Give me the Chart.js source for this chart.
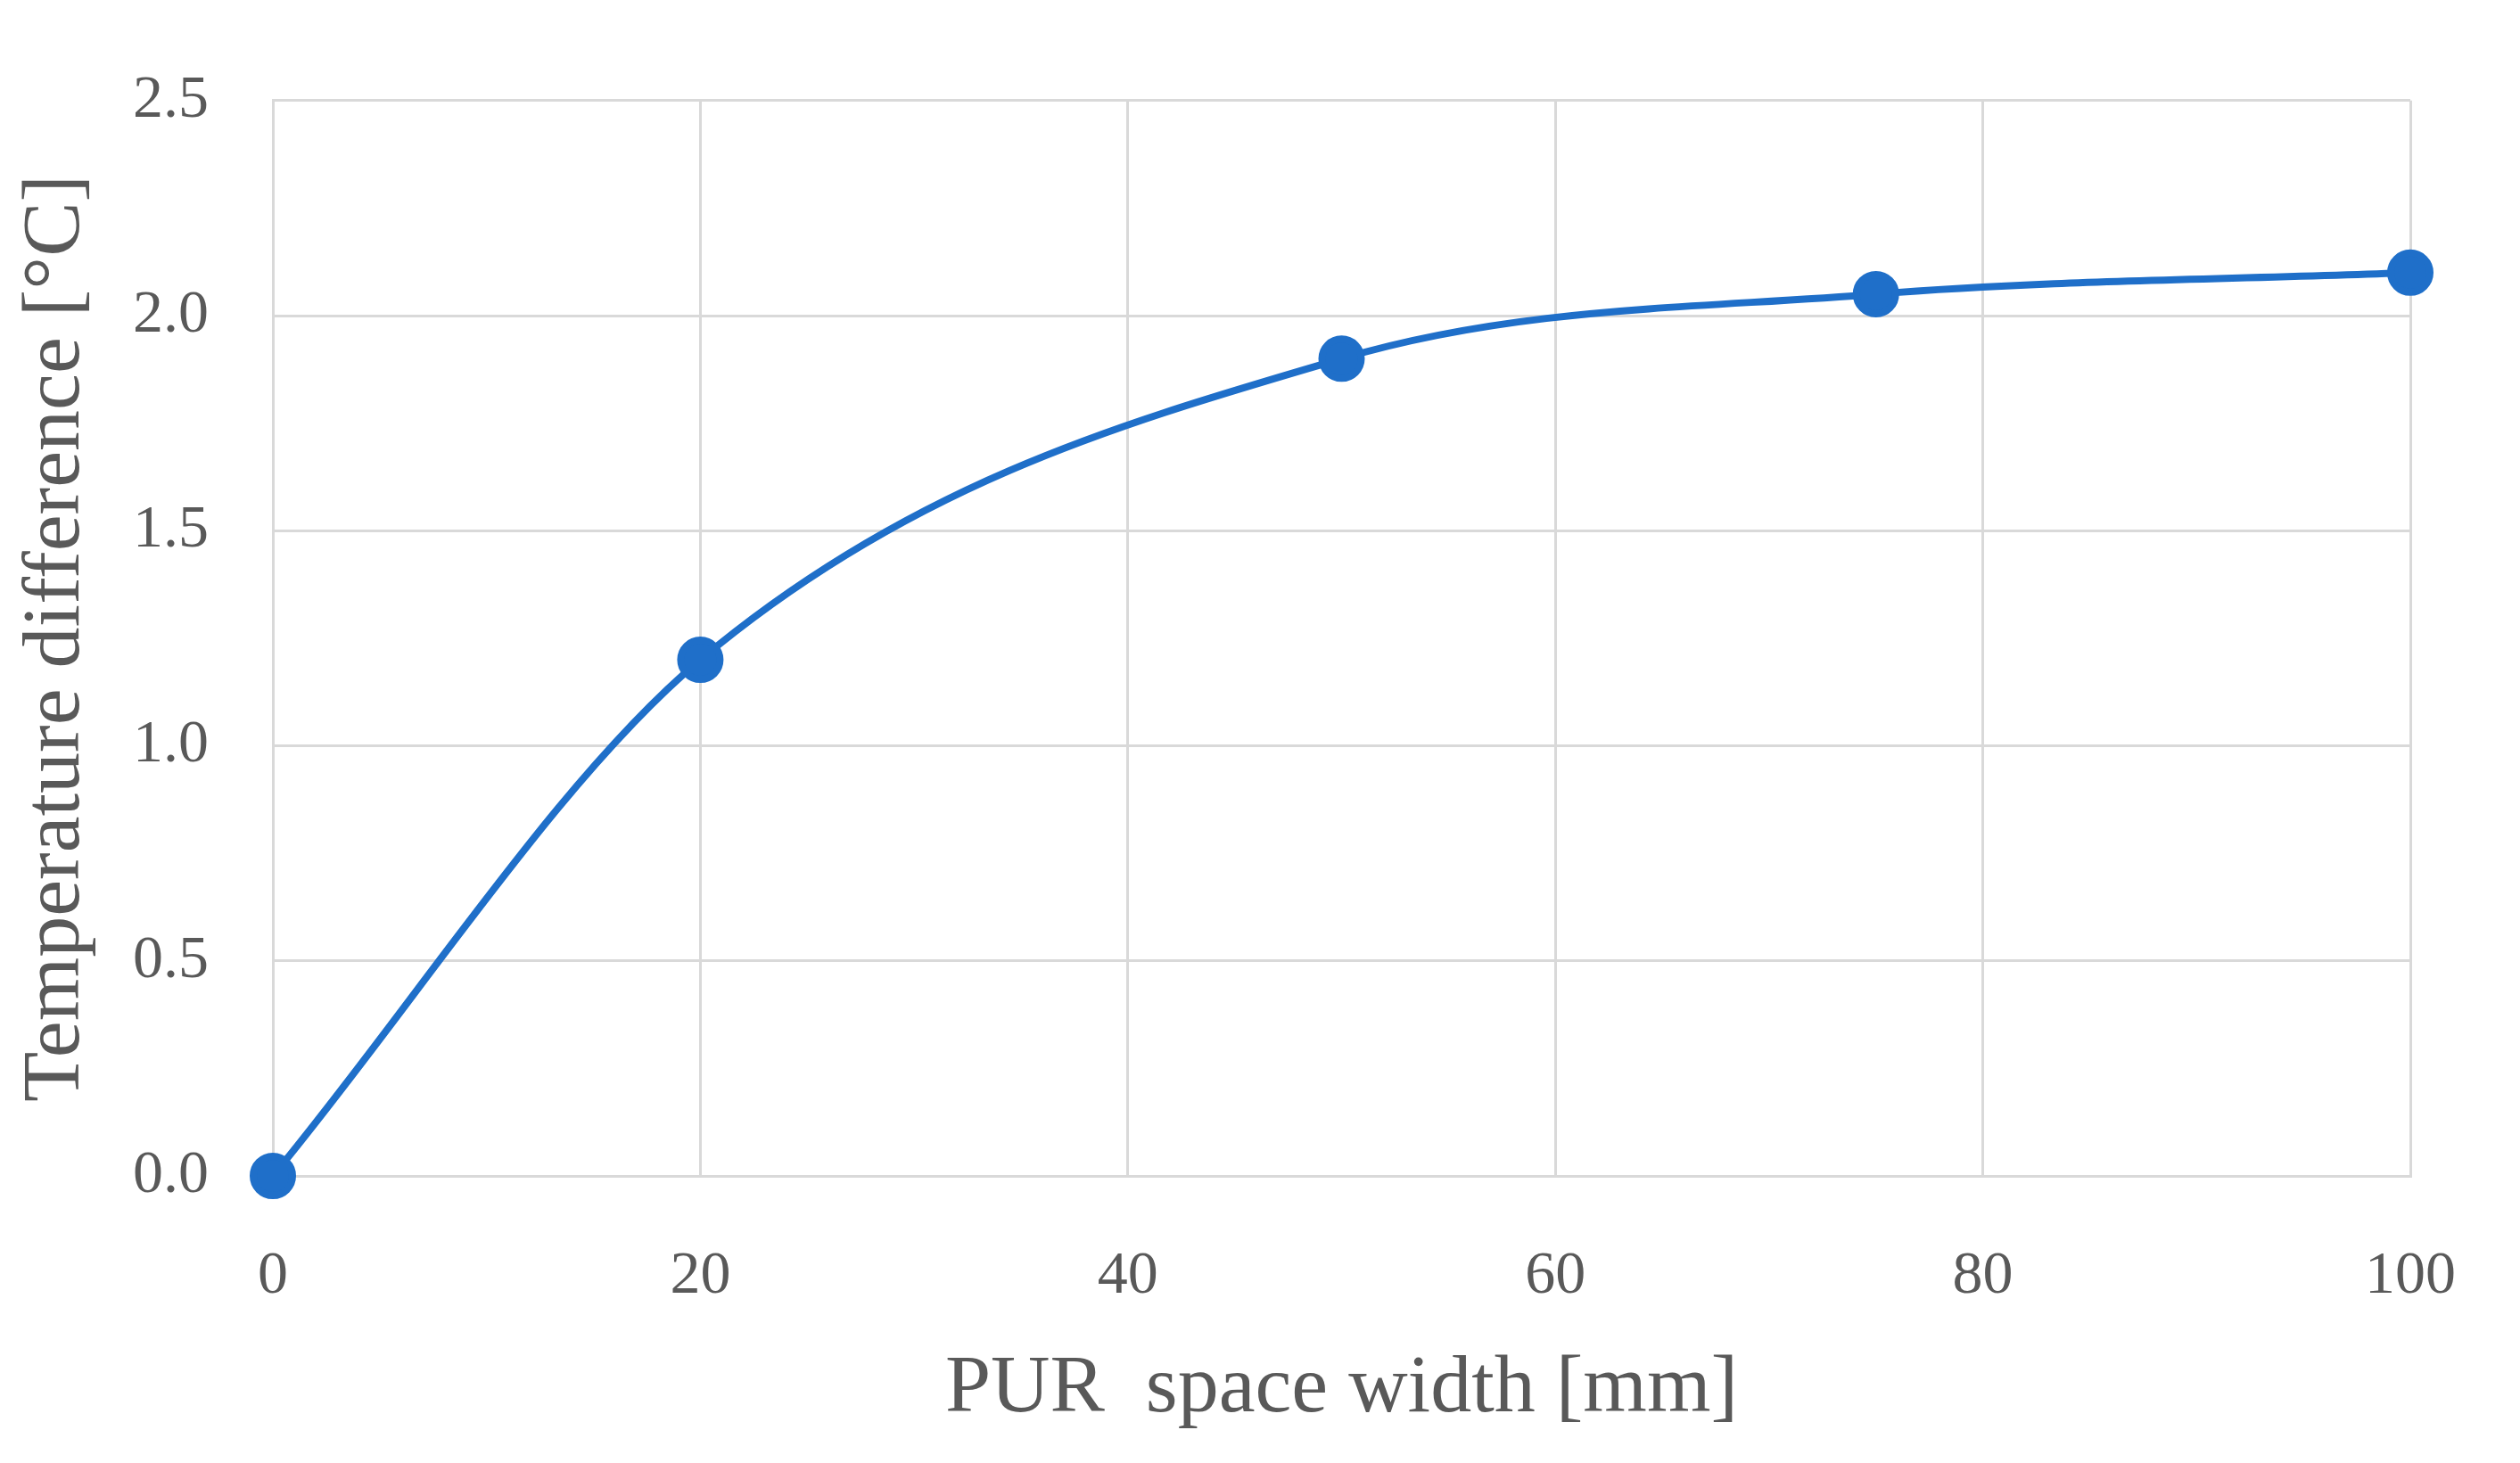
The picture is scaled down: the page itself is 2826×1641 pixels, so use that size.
<!DOCTYPE html>
<html><head><meta charset="utf-8">
<script src="https://cdn.jsdelivr.net/npm/chart.js@4"></script>
<style>html,body{margin:0;padding:0;background:#fff}#w{width:2826px;height:1641px}</style>
</head><body><div id="w"><canvas id="c"></canvas></div>
<script>
const widths = [0, 20, 50, 75, 100];
const tempDiff = [0.0, 1.2, 1.9, 2.05, 2.1];
const xTicks = [0, 20, 40, 60, 80, 100];
const yTicks = [0, 0.5, 1.0, 1.5, 2.0, 2.5];
const txt = '#595959';
const fam = '"Liberation Serif", serif';
new Chart(document.getElementById('c'), {
  type: 'line',
  data: { datasets: [{
    data: widths.map((x, i) => ({x, y: tempDiff[i]})),
    borderColor: '#1f6fc9', backgroundColor: '#1f6fc9',
    borderWidth: 8, pointRadius: 22, pointHoverRadius: 22,
    tension: 0.4, cubicInterpolationMode: 'monotone', clip: false
  }]},
  options: {
    responsive: true, maintainAspectRatio: false, animation: false,
    layout: { padding: { top: 40, right: 74, left: 0, bottom: 0 } },
    plugins: { legend: { display: false }, tooltip: { enabled: false } },
    scales: {
      x: { type: 'linear', min: 0, max: 100,
        afterBuildTicks: s => { s.ticks = xTicks.map(v => ({value: v})); },
        afterFit: s => { s.height = 322; },
        grid: { color: '#d9d9d9', lineWidth: 3, drawTicks: false },
        border: { color: '#d9d9d9', width: 3 },
        ticks: { color: txt, font: { family: fam, size: 68 }, padding: 72 },
        title: { display: true, text: 'PUR  space width [mm]', color: txt,
          font: { family: fam, size: 92, lineHeight: 1 }, padding: { top: 36, bottom: 36 } } },
      y: { min: 0, max: 2.5,
        afterBuildTicks: s => { s.ticks = yTicks.map(v => ({value: v})); },
        afterFit: s => { s.width = 306; },
        grid: { color: '#d9d9d9', lineWidth: 3, drawTicks: false },
        border: { color: '#d9d9d9', width: 3 },
        ticks: { color: txt, font: { family: fam, size: 68 }, padding: 72,
          callback: v => Number(v).toFixed(1) },
        title: { display: true, text: 'Temperature difference [°C]', color: txt,
          font: { family: fam, size: 92, lineHeight: 1 }, padding: { top: 18, bottom: 18 } } }
    }
  }
});
</script></body></html>
